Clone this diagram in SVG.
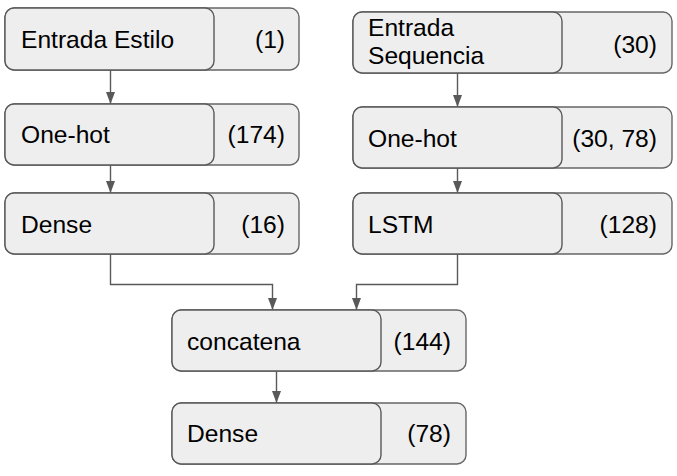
<svg xmlns="http://www.w3.org/2000/svg" width="677" height="476" viewBox="0 0 677 476">
<style>
.o{fill:#eeeeee;stroke:#666666;stroke-width:1.4}
.i{fill:#eeeeee;stroke:#595959;stroke-width:1.4}
.t{font-family:"Liberation Sans",Arial,sans-serif;font-size:24.6px;fill:#000}
.r{text-anchor:end}
.c{fill:none;stroke:#595959;stroke-width:1.4}
</style>
<defs>
<marker id="a" viewBox="0 0 12 9" refX="12" refY="4.5" markerWidth="12" markerHeight="9" orient="auto" markerUnits="userSpaceOnUse">
<path d="M0,0 L12,4.5 L0,9 z" fill="#595959"/>
</marker>
</defs>
<g id="connectors">
<path class="c" d="M110.5,70 V104" marker-end="url(#a)"/>
<path class="c" d="M110.5,165 V193" marker-end="url(#a)"/>
<path class="c" d="M457.5,73 V107" marker-end="url(#a)"/>
<path class="c" d="M457.5,168 V193" marker-end="url(#a)"/>
<path class="c" d="M110.5,254 V284.5 H272.5 V310" marker-end="url(#a)"/>
<path class="c" d="M457.5,254 V284.5 H356.5 V310" marker-end="url(#a)"/>
<path class="c" d="M276.5,371 V403" marker-end="url(#a)"/>
</g>
<g id="entrada-estilo">
<rect class="o" x="5" y="8" width="294" height="62" rx="9"/>
<rect class="i" x="5" y="8" width="209" height="62" rx="9"/>
<text class="t" x="21" y="48">Entrada Estilo</text>
<text class="t r" x="285" y="48">(1)</text>
</g>
<g id="onehot-left">
<rect class="o" x="5" y="104" width="294" height="61" rx="9"/>
<rect class="i" x="5" y="104" width="209" height="61" rx="9"/>
<text class="t" x="21" y="143">One-hot</text>
<text class="t r" x="285" y="143">(174)</text>
</g>
<g id="dense-left">
<rect class="o" x="5" y="193" width="294" height="61" rx="9"/>
<rect class="i" x="5" y="193" width="209" height="61" rx="9"/>
<text class="t" x="21" y="232.5">Dense</text>
<text class="t r" x="285" y="232.5">(16)</text>
</g>
<g id="entrada-sequencia">
<rect class="o" x="353" y="12" width="319" height="61" rx="9"/>
<rect class="i" x="353" y="12" width="209" height="61" rx="9"/>
<text class="t" x="368" y="36">Entrada</text>
<text class="t" x="368" y="64">Sequencia</text>
<text class="t r" x="657" y="52.5">(30)</text>
</g>
<g id="onehot-right">
<rect class="o" x="353" y="107" width="319" height="61" rx="9"/>
<rect class="i" x="353" y="107" width="209" height="61" rx="9"/>
<text class="t" x="368" y="146.5">One-hot</text>
<text class="t r" x="657" y="146.5">(30, 78)</text>
</g>
<g id="lstm">
<rect class="o" x="353" y="193" width="319" height="61" rx="9"/>
<rect class="i" x="353" y="193" width="209" height="61" rx="9"/>
<text class="t" x="368" y="232.5">LSTM</text>
<text class="t r" x="657" y="232.5">(128)</text>
</g>
<g id="concatena">
<rect class="o" x="172" y="310" width="294" height="61" rx="9"/>
<rect class="i" x="172" y="310" width="209" height="61" rx="9"/>
<text class="t" x="187" y="349.5">concatena</text>
<text class="t r" x="451" y="349.5">(144)</text>
</g>
<g id="dense-out">
<rect class="o" x="172" y="403" width="294" height="61" rx="9"/>
<rect class="i" x="172" y="403" width="209" height="61" rx="9"/>
<text class="t" x="187" y="442">Dense</text>
<text class="t r" x="451" y="442">(78)</text>
</g>
</svg>
